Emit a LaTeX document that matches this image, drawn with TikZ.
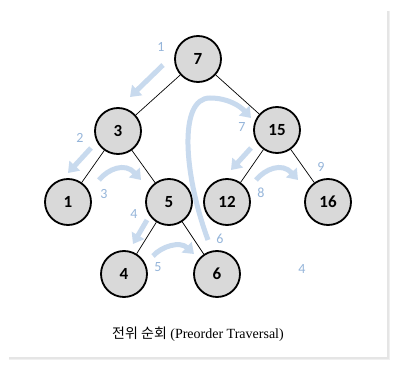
\documentclass[tikz,border=0pt]{standalone}
\usepackage{fontspec}
\setmainfont{Liberation Serif}
\newfontfamily\calib{Carlito}
\newfontfamily\kor{Noto Sans CJK KR}
\usetikzlibrary{arrows.meta}
\definecolor{arrowblue}{HTML}{C8DAEE}
\definecolor{labelblue}{HTML}{95B5DA}
\definecolor{nodegray}{HTML}{D9D9D9}
\tikzset{
  tnode/.style={circle, draw=black, line width=1.8pt, fill=nodegray, minimum size=46pt, inner sep=0pt, font=\calib\bfseries\fontsize{17}{17}\selectfont},
  tedge/.style={draw=black, line width=0.7pt},
  trav/.style={draw=arrowblue, line width=5pt, -{Triangle[width=14pt,length=10pt]}},
  tlab/.style={text=labelblue, font=\calib\fontsize{14}{14}\selectfont, inner sep=0pt},
}
\begin{document}
\begin{tikzpicture}[x=1pt,y=-1pt]
\useasboundingbox (0,0) rectangle (400,369);
% card with shadow
\fill[black!6] (9,11) rectangle (390,360);
\fill[black!10] (9,11) rectangle (389,359);
\fill[white] (8,10) rectangle (387,357);
% nodes
\node[tnode] (n7) at (198,59) {7};
\node[tnode] (n3) at (118,131) {3};
\node[tnode] (n15) at (277,130) {15};
\node[tnode] (n1) at (68,202) {1};
\node[tnode] (n5) at (169,202) {5};
\node[tnode] (n12) at (227,202) {12};
\node[tnode] (n16) at (328,202) {16};
\node[tnode] (n4) at (124,274) {4};
\node[tnode] (n6) at (217,274) {6};
% edges
\draw[tedge] (n7) -- (n3);
\draw[tedge] (n7) -- (n15);
\draw[tedge] (n3) -- (n1);
\draw[tedge] (n3) -- (n5);
\draw[tedge] (n15) -- (n12);
\draw[tedge] (n15) -- (n16);
\draw[tedge] (n5) -- (n4);
\draw[tedge] (n5) -- (n6);
% traversal arrows
\coordinate (a1s) at (163,65); \coordinate (a1e) at (130,97);
\coordinate (a2s) at (91,148); \coordinate (a2e) at (68,173);
\coordinate (a3s) at (99,180); \coordinate (a3e) at (141,180);
\coordinate (a4s) at (147,220); \coordinate (a4e) at (133,244);
\coordinate (a5s) at (153,256); \coordinate (a5e) at (194,254);
\coordinate (a6s) at (208,240); \coordinate (a6e) at (251,118);
\coordinate (a7s) at (251,148); \coordinate (a7e) at (231,170);
\coordinate (a8s) at (256,180); \coordinate (a8e) at (298,180);
\draw[trav] (a1s) -- (a1e);
\draw[trav] (a2s) -- (a2e);
\draw[trav] (a3s) .. controls (108,169) and (125,162) .. (a3e);
\draw[trav] (a4s) -- (a4e);
\draw[trav] (a5s) .. controls (162,246) and (180,241) .. (a5e);
\draw[trav] (a6s) .. controls (184,175) and (178,98) .. (210,98) .. controls (228,98) and (240,106) .. (a6e);
\draw[trav] (a7s) -- (a7e);
\draw[trav] (a8s) .. controls (265,169) and (282,162) .. (a8e);
% step labels
\node[tlab] (l1) at (161,47) {1};
\node[tlab] (l2) at (80,138) {2};
\node[tlab] (l3) at (104,194) {3};
\node[tlab] (l4) at (134,214) {4};
\node[tlab] (l5) at (158,267) {5};
\node[tlab] (l6) at (220,239) {6};
\node[tlab] (l7) at (242,127) {7};
\node[tlab] (l8) at (261,193) {8};
\node[tlab] (l9) at (321,167) {9};
\node[tlab] (l4b) at (302,269) {4};
% caption
\node (cap) at (198,334) {\fontsize{14}{14}\selectfont{\kor 전위 순회} (Preorder Traversal)};
\end{tikzpicture}
\end{document}
